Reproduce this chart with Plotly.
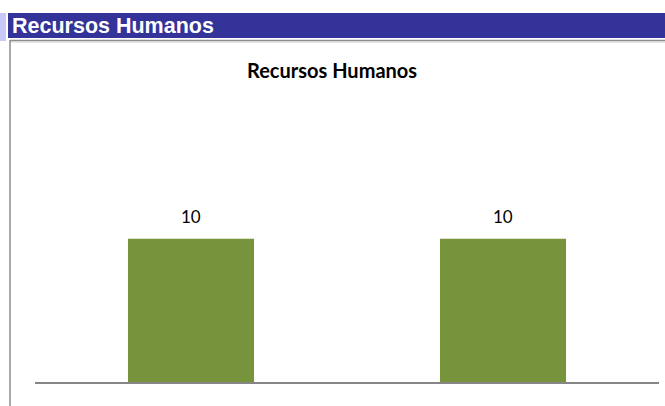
import plotly.graph_objects as go

# ---- data ----
categories = ["Categoría 1", "Categoría 2"]
values = [10, 10]
chart_title = "Recursos Humanos"
header_title = "Recursos Humanos"

W, H = 665, 406
PL, PR, PT, PB = 35, 659, 210, 382  # plot area in pixels


def px(x):
    return (x - PL) / (PR - PL)


def py(y):
    return (PB - y) / (PB - PT)


fig = go.Figure()
fig.add_trace(go.Bar(
    x=categories, y=values,
    marker=dict(color="#77933C", line=dict(width=0)),
    width=0.404,
    hoverinfo="x+y",
))

for c, v in zip(categories, values):
    fig.add_annotation(x=c, y=v, text=str(v), showarrow=False,
                       yanchor="middle", yshift=22,
                       font=dict(family="Lato, Carlito, Liberation Sans", size=17, color="#000000"))

shapes = [
    # lavender strip at left
    dict(type="rect", xref="paper", yref="paper", x0=px(0), x1=px(6), y0=py(41), y1=py(13),
         fillcolor="#C8C8FA", line=dict(width=0), layer="above"),
    # header bar
    dict(type="rect", xref="paper", yref="paper", x0=px(8), x1=px(665), y0=py(38), y1=py(13),
         fillcolor="#333399", line=dict(width=0), layer="below"),
    # gray border top
    dict(type="line", xref="paper", yref="paper", x0=px(10), x1=px(665), y0=py(40.5), y1=py(40.5),
         line=dict(color="#8C8C8C", width=1.5)),
    dict(type="line", xref="paper", yref="paper", x0=px(10), x1=px(665), y0=py(42), y1=py(42),
         line=dict(color="#D0D0D0", width=1)),
    # gray border left
    dict(type="line", xref="paper", yref="paper", x0=px(10), x1=px(10), y0=py(40), y1=py(406),
         line=dict(color="#8C8C8C", width=1.5)),
]

annotations = [
    dict(text="<b>" + header_title + "</b>", xref="paper", yref="paper", x=px(10), y=py(26),
         xanchor="left", yanchor="middle", showarrow=False,
         font=dict(family="Liberation Sans, Arial", size=21.5, color="#FFFFFF")),
    dict(text="<b>" + chart_title + "</b>", xref="paper", yref="paper", x=px(332), y=py(70),
         xanchor="center", yanchor="middle", showarrow=False,
         font=dict(family="Lato, Carlito, Liberation Sans", size=20, color="#000000")),
]

fig.update_layout(
    width=W, height=H,
    margin=dict(l=PL, r=W - PR, t=PT, b=H - PB, pad=0),
    paper_bgcolor="#FFFFFF", plot_bgcolor="#FFFFFF",
    showlegend=False,
    bargap=0.596,
    shapes=shapes,
)
for a in annotations:
    fig.add_annotation(**a)

fig.update_xaxes(showline=True, linecolor="#868686", linewidth=1.5, showticklabels=False,
                 ticks="", showgrid=False, zeroline=False)
fig.update_yaxes(range=[0, 12], visible=False, showgrid=False, zeroline=False)

fig.write_html("out.html", config={"displayModeBar": False},
               post_script="document.body.style.margin='0';document.body.style.overflow='hidden';")
